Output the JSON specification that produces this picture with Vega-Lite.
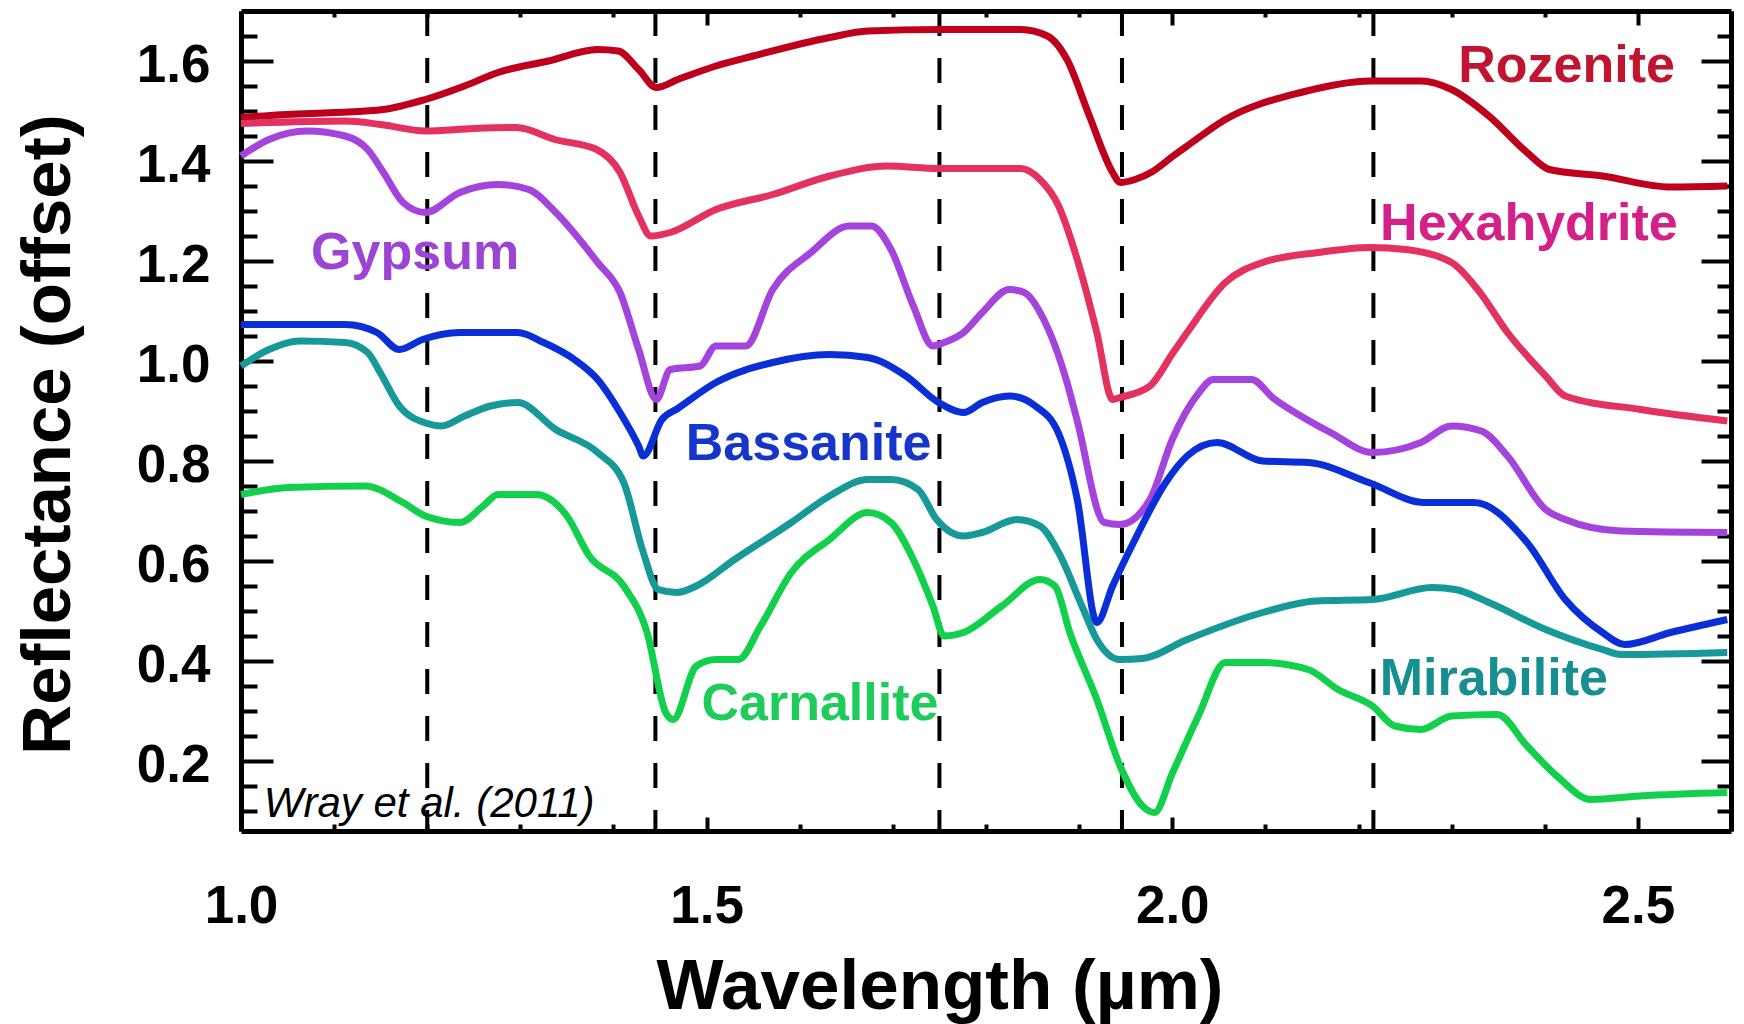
{
  "$schema": "https://vega.github.io/schema/vega-lite/v6.json",
  "width": 1490,
  "height": 820,
  "autosize": {"type": "none"},
  "padding": {"left": 241, "top": 11, "right": 13, "bottom": 193},
  "background": "white",
  "config": {"view": {"stroke": null}},
  "datasets": {
    "dashes": [{"w": 1.2}, {"w": 1.445}, {"w": 1.75}, {"w": 1.946}, {"w": 2.216}],
    "labels": [
      {"label": "Rozenite", "w": 2.4235, "v": 1.5586},
      {"label": "Hexahydrite", "w": 2.383, "v": 1.242},
      {"label": "Gypsum", "w": 1.187, "v": 1.184},
      {"label": "Bassanite", "w": 1.6095, "v": 0.802},
      {"label": "Mirabilite", "w": 2.3453, "v": 0.332},
      {"label": "Carnallite", "w": 1.6217, "v": 0.282}
    ],
    "notes": [{"note": "Wray et al. (2011)", "w": 1.0245, "v": 0.088}],
    "spectra": [
      {"m": "Rozenite", "w": 1.0, "v": 1.487},
      {"m": "Rozenite", "w": 1.05, "v": 1.493},
      {"m": "Rozenite", "w": 1.1, "v": 1.497},
      {"m": "Rozenite", "w": 1.153, "v": 1.503},
      {"m": "Rozenite", "w": 1.198, "v": 1.523},
      {"m": "Rozenite", "w": 1.24, "v": 1.55},
      {"m": "Rozenite", "w": 1.276, "v": 1.577},
      {"m": "Rozenite", "w": 1.33, "v": 1.6},
      {"m": "Rozenite", "w": 1.383, "v": 1.623},
      {"m": "Rozenite", "w": 1.405, "v": 1.62},
      {"m": "Rozenite", "w": 1.427, "v": 1.583},
      {"m": "Rozenite", "w": 1.446, "v": 1.547},
      {"m": "Rozenite", "w": 1.469, "v": 1.563},
      {"m": "Rozenite", "w": 1.51, "v": 1.59},
      {"m": "Rozenite", "w": 1.55, "v": 1.61},
      {"m": "Rozenite", "w": 1.632, "v": 1.647},
      {"m": "Rozenite", "w": 1.673, "v": 1.66},
      {"m": "Rozenite", "w": 1.749, "v": 1.663},
      {"m": "Rozenite", "w": 1.837, "v": 1.663},
      {"m": "Rozenite", "w": 1.866, "v": 1.65},
      {"m": "Rozenite", "w": 1.887, "v": 1.603},
      {"m": "Rozenite", "w": 1.911, "v": 1.49},
      {"m": "Rozenite", "w": 1.936, "v": 1.377},
      {"m": "Rozenite", "w": 1.944, "v": 1.357},
      {"m": "Rozenite", "w": 1.96, "v": 1.363},
      {"m": "Rozenite", "w": 1.978, "v": 1.378},
      {"m": "Rozenite", "w": 2.001, "v": 1.41},
      {"m": "Rozenite", "w": 2.016, "v": 1.43},
      {"m": "Rozenite", "w": 2.057, "v": 1.483},
      {"m": "Rozenite", "w": 2.138, "v": 1.537},
      {"m": "Rozenite", "w": 2.213, "v": 1.56},
      {"m": "Rozenite", "w": 2.267, "v": 1.56},
      {"m": "Rozenite", "w": 2.3, "v": 1.543},
      {"m": "Rozenite", "w": 2.34, "v": 1.49},
      {"m": "Rozenite", "w": 2.381, "v": 1.417},
      {"m": "Rozenite", "w": 2.405, "v": 1.383},
      {"m": "Rozenite", "w": 2.462, "v": 1.37},
      {"m": "Rozenite", "w": 2.535, "v": 1.348},
      {"m": "Rozenite", "w": 2.596, "v": 1.35},
      {"m": "Hexahydrite", "w": 1.0, "v": 1.475},
      {"m": "Hexahydrite", "w": 1.112, "v": 1.48},
      {"m": "Hexahydrite", "w": 1.15, "v": 1.473},
      {"m": "Hexahydrite", "w": 1.198, "v": 1.46},
      {"m": "Hexahydrite", "w": 1.25, "v": 1.465},
      {"m": "Hexahydrite", "w": 1.296, "v": 1.467},
      {"m": "Hexahydrite", "w": 1.337, "v": 1.443},
      {"m": "Hexahydrite", "w": 1.382, "v": 1.423},
      {"m": "Hexahydrite", "w": 1.407, "v": 1.377},
      {"m": "Hexahydrite", "w": 1.427, "v": 1.29},
      {"m": "Hexahydrite", "w": 1.44, "v": 1.25},
      {"m": "Hexahydrite", "w": 1.461, "v": 1.257},
      {"m": "Hexahydrite", "w": 1.51, "v": 1.303},
      {"m": "Hexahydrite", "w": 1.571, "v": 1.333},
      {"m": "Hexahydrite", "w": 1.632, "v": 1.37},
      {"m": "Hexahydrite", "w": 1.694, "v": 1.39},
      {"m": "Hexahydrite", "w": 1.749, "v": 1.385},
      {"m": "Hexahydrite", "w": 1.837, "v": 1.385},
      {"m": "Hexahydrite", "w": 1.858, "v": 1.363},
      {"m": "Hexahydrite", "w": 1.878, "v": 1.31},
      {"m": "Hexahydrite", "w": 1.898, "v": 1.203},
      {"m": "Hexahydrite", "w": 1.919, "v": 1.057},
      {"m": "Hexahydrite", "w": 1.936, "v": 0.923},
      {"m": "Hexahydrite", "w": 1.944, "v": 0.927},
      {"m": "Hexahydrite", "w": 1.976, "v": 0.95},
      {"m": "Hexahydrite", "w": 2.001, "v": 1.017},
      {"m": "Hexahydrite", "w": 2.016, "v": 1.057},
      {"m": "Hexahydrite", "w": 2.057, "v": 1.157},
      {"m": "Hexahydrite", "w": 2.097, "v": 1.197},
      {"m": "Hexahydrite", "w": 2.157, "v": 1.217},
      {"m": "Hexahydrite", "w": 2.213, "v": 1.227},
      {"m": "Hexahydrite", "w": 2.251, "v": 1.223},
      {"m": "Hexahydrite", "w": 2.3, "v": 1.197},
      {"m": "Hexahydrite", "w": 2.328, "v": 1.143},
      {"m": "Hexahydrite", "w": 2.36, "v": 1.057},
      {"m": "Hexahydrite", "w": 2.401, "v": 0.97},
      {"m": "Hexahydrite", "w": 2.422, "v": 0.93},
      {"m": "Hexahydrite", "w": 2.503, "v": 0.903},
      {"m": "Hexahydrite", "w": 2.596, "v": 0.88},
      {"m": "Gypsum", "w": 1.0, "v": 1.41},
      {"m": "Gypsum", "w": 1.03, "v": 1.443},
      {"m": "Gypsum", "w": 1.071, "v": 1.46},
      {"m": "Gypsum", "w": 1.112, "v": 1.45},
      {"m": "Gypsum", "w": 1.136, "v": 1.423},
      {"m": "Gypsum", "w": 1.153, "v": 1.377},
      {"m": "Gypsum", "w": 1.174, "v": 1.317},
      {"m": "Gypsum", "w": 1.198, "v": 1.297},
      {"m": "Gypsum", "w": 1.235, "v": 1.337},
      {"m": "Gypsum", "w": 1.276, "v": 1.353},
      {"m": "Gypsum", "w": 1.309, "v": 1.343},
      {"m": "Gypsum", "w": 1.338, "v": 1.297},
      {"m": "Gypsum", "w": 1.383, "v": 1.197},
      {"m": "Gypsum", "w": 1.407, "v": 1.137},
      {"m": "Gypsum", "w": 1.427, "v": 1.023},
      {"m": "Gypsum", "w": 1.446, "v": 0.923},
      {"m": "Gypsum", "w": 1.461, "v": 0.983},
      {"m": "Gypsum", "w": 1.493, "v": 0.99},
      {"m": "Gypsum", "w": 1.51, "v": 1.03},
      {"m": "Gypsum", "w": 1.542, "v": 1.03},
      {"m": "Gypsum", "w": 1.571, "v": 1.143},
      {"m": "Gypsum", "w": 1.612, "v": 1.217},
      {"m": "Gypsum", "w": 1.653, "v": 1.27},
      {"m": "Gypsum", "w": 1.677, "v": 1.27},
      {"m": "Gypsum", "w": 1.698, "v": 1.223},
      {"m": "Gypsum", "w": 1.722, "v": 1.11},
      {"m": "Gypsum", "w": 1.743, "v": 1.03},
      {"m": "Gypsum", "w": 1.755, "v": 1.037},
      {"m": "Gypsum", "w": 1.776, "v": 1.057},
      {"m": "Gypsum", "w": 1.796, "v": 1.097},
      {"m": "Gypsum", "w": 1.825, "v": 1.143},
      {"m": "Gypsum", "w": 1.841, "v": 1.137},
      {"m": "Gypsum", "w": 1.862, "v": 1.083},
      {"m": "Gypsum", "w": 1.887, "v": 0.957},
      {"m": "Gypsum", "w": 1.898, "v": 0.88},
      {"m": "Gypsum", "w": 1.927, "v": 0.677},
      {"m": "Gypsum", "w": 1.944, "v": 0.673},
      {"m": "Gypsum", "w": 1.976, "v": 0.723},
      {"m": "Gypsum", "w": 2.0, "v": 0.843},
      {"m": "Gypsum", "w": 2.028, "v": 0.935},
      {"m": "Gypsum", "w": 2.044, "v": 0.963},
      {"m": "Gypsum", "w": 2.085, "v": 0.963},
      {"m": "Gypsum", "w": 2.109, "v": 0.925},
      {"m": "Gypsum", "w": 2.138, "v": 0.89},
      {"m": "Gypsum", "w": 2.17, "v": 0.857},
      {"m": "Gypsum", "w": 2.215, "v": 0.817},
      {"m": "Gypsum", "w": 2.267, "v": 0.837},
      {"m": "Gypsum", "w": 2.3, "v": 0.87},
      {"m": "Gypsum", "w": 2.332, "v": 0.86},
      {"m": "Gypsum", "w": 2.36, "v": 0.81},
      {"m": "Gypsum", "w": 2.401, "v": 0.703},
      {"m": "Gypsum", "w": 2.422, "v": 0.683},
      {"m": "Gypsum", "w": 2.482, "v": 0.66},
      {"m": "Gypsum", "w": 2.596, "v": 0.657},
      {"m": "Bassanite", "w": 1.0, "v": 1.073},
      {"m": "Bassanite", "w": 1.112, "v": 1.073},
      {"m": "Bassanite", "w": 1.146, "v": 1.057},
      {"m": "Bassanite", "w": 1.17, "v": 1.023},
      {"m": "Bassanite", "w": 1.195, "v": 1.043},
      {"m": "Bassanite", "w": 1.235, "v": 1.057},
      {"m": "Bassanite", "w": 1.297, "v": 1.057},
      {"m": "Bassanite", "w": 1.325, "v": 1.037},
      {"m": "Bassanite", "w": 1.358, "v": 1.003},
      {"m": "Bassanite", "w": 1.383, "v": 0.963},
      {"m": "Bassanite", "w": 1.407, "v": 0.897},
      {"m": "Bassanite", "w": 1.427, "v": 0.83},
      {"m": "Bassanite", "w": 1.432, "v": 0.81},
      {"m": "Bassanite", "w": 1.452, "v": 0.883},
      {"m": "Bassanite", "w": 1.469, "v": 0.905},
      {"m": "Bassanite", "w": 1.51, "v": 0.957},
      {"m": "Bassanite", "w": 1.571, "v": 0.997},
      {"m": "Bassanite", "w": 1.632, "v": 1.013},
      {"m": "Bassanite", "w": 1.673, "v": 1.007},
      {"m": "Bassanite", "w": 1.714, "v": 0.97},
      {"m": "Bassanite", "w": 1.749, "v": 0.917},
      {"m": "Bassanite", "w": 1.776, "v": 0.897},
      {"m": "Bassanite", "w": 1.796, "v": 0.917},
      {"m": "Bassanite", "w": 1.825, "v": 0.93},
      {"m": "Bassanite", "w": 1.853, "v": 0.91},
      {"m": "Bassanite", "w": 1.878, "v": 0.855},
      {"m": "Bassanite", "w": 1.898, "v": 0.723},
      {"m": "Bassanite", "w": 1.919, "v": 0.477},
      {"m": "Bassanite", "w": 1.936, "v": 0.55},
      {"m": "Bassanite", "w": 1.96, "v": 0.643},
      {"m": "Bassanite", "w": 1.993, "v": 0.757},
      {"m": "Bassanite", "w": 2.016, "v": 0.81},
      {"m": "Bassanite", "w": 2.048, "v": 0.837},
      {"m": "Bassanite", "w": 2.097, "v": 0.8},
      {"m": "Bassanite", "w": 2.146, "v": 0.797},
      {"m": "Bassanite", "w": 2.211, "v": 0.757},
      {"m": "Bassanite", "w": 2.271, "v": 0.717},
      {"m": "Bassanite", "w": 2.324, "v": 0.717},
      {"m": "Bassanite", "w": 2.381, "v": 0.637},
      {"m": "Bassanite", "w": 2.422, "v": 0.523},
      {"m": "Bassanite", "w": 2.462, "v": 0.457},
      {"m": "Bassanite", "w": 2.486, "v": 0.433},
      {"m": "Bassanite", "w": 2.535, "v": 0.457},
      {"m": "Bassanite", "w": 2.596, "v": 0.483},
      {"m": "Mirabilite", "w": 1.0, "v": 0.99},
      {"m": "Mirabilite", "w": 1.03, "v": 1.023},
      {"m": "Mirabilite", "w": 1.063, "v": 1.04},
      {"m": "Mirabilite", "w": 1.112, "v": 1.037},
      {"m": "Mirabilite", "w": 1.136, "v": 1.017},
      {"m": "Mirabilite", "w": 1.15, "v": 0.975},
      {"m": "Mirabilite", "w": 1.17, "v": 0.91},
      {"m": "Mirabilite", "w": 1.2, "v": 0.875},
      {"m": "Mirabilite", "w": 1.215, "v": 0.87},
      {"m": "Mirabilite", "w": 1.24, "v": 0.89},
      {"m": "Mirabilite", "w": 1.268, "v": 0.91},
      {"m": "Mirabilite", "w": 1.297, "v": 0.917},
      {"m": "Mirabilite", "w": 1.338, "v": 0.863},
      {"m": "Mirabilite", "w": 1.383, "v": 0.817},
      {"m": "Mirabilite", "w": 1.411, "v": 0.757},
      {"m": "Mirabilite", "w": 1.431, "v": 0.623},
      {"m": "Mirabilite", "w": 1.448, "v": 0.543},
      {"m": "Mirabilite", "w": 1.468, "v": 0.537},
      {"m": "Mirabilite", "w": 1.489, "v": 0.55},
      {"m": "Mirabilite", "w": 1.53, "v": 0.603},
      {"m": "Mirabilite", "w": 1.591, "v": 0.677},
      {"m": "Mirabilite", "w": 1.632, "v": 0.73},
      {"m": "Mirabilite", "w": 1.673, "v": 0.763},
      {"m": "Mirabilite", "w": 1.698, "v": 0.763},
      {"m": "Mirabilite", "w": 1.727, "v": 0.743},
      {"m": "Mirabilite", "w": 1.747, "v": 0.683},
      {"m": "Mirabilite", "w": 1.776, "v": 0.65},
      {"m": "Mirabilite", "w": 1.796, "v": 0.657},
      {"m": "Mirabilite", "w": 1.833, "v": 0.683},
      {"m": "Mirabilite", "w": 1.858, "v": 0.67},
      {"m": "Mirabilite", "w": 1.878, "v": 0.617},
      {"m": "Mirabilite", "w": 1.903, "v": 0.51},
      {"m": "Mirabilite", "w": 1.919, "v": 0.443},
      {"m": "Mirabilite", "w": 1.944, "v": 0.403},
      {"m": "Mirabilite", "w": 1.968, "v": 0.405},
      {"m": "Mirabilite", "w": 2.016, "v": 0.443},
      {"m": "Mirabilite", "w": 2.097, "v": 0.497},
      {"m": "Mirabilite", "w": 2.154, "v": 0.52},
      {"m": "Mirabilite", "w": 2.215, "v": 0.523},
      {"m": "Mirabilite", "w": 2.279, "v": 0.547},
      {"m": "Mirabilite", "w": 2.304, "v": 0.543},
      {"m": "Mirabilite", "w": 2.34, "v": 0.517},
      {"m": "Mirabilite", "w": 2.401, "v": 0.463},
      {"m": "Mirabilite", "w": 2.462, "v": 0.423},
      {"m": "Mirabilite", "w": 2.482, "v": 0.413},
      {"m": "Mirabilite", "w": 2.596, "v": 0.417},
      {"m": "Carnallite", "w": 1.0, "v": 0.733},
      {"m": "Carnallite", "w": 1.051, "v": 0.747},
      {"m": "Carnallite", "w": 1.133, "v": 0.75},
      {"m": "Carnallite", "w": 1.174, "v": 0.717},
      {"m": "Carnallite", "w": 1.198, "v": 0.69},
      {"m": "Carnallite", "w": 1.235, "v": 0.677},
      {"m": "Carnallite", "w": 1.26, "v": 0.71},
      {"m": "Carnallite", "w": 1.276, "v": 0.733},
      {"m": "Carnallite", "w": 1.317, "v": 0.733},
      {"m": "Carnallite", "w": 1.35, "v": 0.69},
      {"m": "Carnallite", "w": 1.374, "v": 0.61},
      {"m": "Carnallite", "w": 1.411, "v": 0.55},
      {"m": "Carnallite", "w": 1.436, "v": 0.457},
      {"m": "Carnallite", "w": 1.456, "v": 0.297},
      {"m": "Carnallite", "w": 1.464, "v": 0.283},
      {"m": "Carnallite", "w": 1.489, "v": 0.39},
      {"m": "Carnallite", "w": 1.51, "v": 0.403},
      {"m": "Carnallite", "w": 1.534, "v": 0.403},
      {"m": "Carnallite", "w": 1.558, "v": 0.47},
      {"m": "Carnallite", "w": 1.591, "v": 0.577},
      {"m": "Carnallite", "w": 1.632, "v": 0.643},
      {"m": "Carnallite", "w": 1.673, "v": 0.697},
      {"m": "Carnallite", "w": 1.698, "v": 0.677},
      {"m": "Carnallite", "w": 1.722, "v": 0.603},
      {"m": "Carnallite", "w": 1.743, "v": 0.51},
      {"m": "Carnallite", "w": 1.755, "v": 0.45},
      {"m": "Carnallite", "w": 1.776, "v": 0.457},
      {"m": "Carnallite", "w": 1.817, "v": 0.51},
      {"m": "Carnallite", "w": 1.858, "v": 0.563},
      {"m": "Carnallite", "w": 1.874, "v": 0.55},
      {"m": "Carnallite", "w": 1.89, "v": 0.457},
      {"m": "Carnallite", "w": 1.919, "v": 0.323},
      {"m": "Carnallite", "w": 1.944, "v": 0.19},
      {"m": "Carnallite", "w": 1.968, "v": 0.11},
      {"m": "Carnallite", "w": 1.981, "v": 0.097},
      {"m": "Carnallite", "w": 2.0, "v": 0.175},
      {"m": "Carnallite", "w": 2.028, "v": 0.29},
      {"m": "Carnallite", "w": 2.057, "v": 0.397},
      {"m": "Carnallite", "w": 2.097, "v": 0.397},
      {"m": "Carnallite", "w": 2.146, "v": 0.383},
      {"m": "Carnallite", "w": 2.178, "v": 0.343},
      {"m": "Carnallite", "w": 2.215, "v": 0.31},
      {"m": "Carnallite", "w": 2.239, "v": 0.27},
      {"m": "Carnallite", "w": 2.267, "v": 0.263},
      {"m": "Carnallite", "w": 2.3, "v": 0.29},
      {"m": "Carnallite", "w": 2.349, "v": 0.293},
      {"m": "Carnallite", "w": 2.381, "v": 0.23},
      {"m": "Carnallite", "w": 2.413, "v": 0.17},
      {"m": "Carnallite", "w": 2.45, "v": 0.123},
      {"m": "Carnallite", "w": 2.502, "v": 0.13},
      {"m": "Carnallite", "w": 2.596, "v": 0.137}
    ]
  },
  "layer": [
    {
      "data": {"name": "dashes"},
      "mark": {"type": "rule", "color": "black", "strokeWidth": 4, "strokeDash": [25, 22]},
      "encoding": {
        "x": {"field": "w", "type": "quantitative", "scale": {"domain": [1.0, 2.6], "nice": false, "zero": false}, "axis": null}
      }
    },
    {
      "data": {"name": "spectra"},
      "mark": {"type": "line", "strokeWidth": 7, "interpolate": "monotone", "strokeJoin": "round"},
      "encoding": {
        "x": {
          "field": "w", "type": "quantitative",
          "scale": {"domain": [1.0, 2.6], "nice": false, "zero": false},
          "axis": {
            "orient": "bottom",
            "values": [1.0, 1.1, 1.2, 1.3, 1.4, 1.5, 1.6, 1.7, 1.8, 1.9, 2.0, 2.1, 2.2, 2.3, 2.4, 2.5, 2.6],
            "labelExpr": "abs(datum.value*2 - round(datum.value*2)) < 0.001 ? format(datum.value, '.1f') : ''",
            "ticks": false, "tickSize": 0,
            "grid": true, "gridColor": "black", "gridWidth": 4, "gridOpacity": 1,
            "gridDash": {"condition": {"test": "abs(datum.value*2 - round(datum.value*2)) < 0.001", "value": [14, 792, 14, 3000]}, "value": [6, 807, 7, 3000]},
            "domainColor": "black", "domainWidth": 5,
            "labelFont": "Liberation Sans", "labelFontSize": 53, "labelFontWeight": "bold", "labelColor": "black",
            "labelBaseline": "alphabetic", "labelPadding": 91, "labelFlush": false, "labelOverlap": false, "labelBound": false,
            "title": "Wavelength (µm)", "titleFont": "Liberation Sans", "titleFontSize": 71, "titleFontWeight": "bold", "titleColor": "black",
            "titleX": 698.5, "titleY": 177, "titleAlign": "center", "titleBaseline": "alphabetic"
          }
        },
        "y": {
          "field": "v", "type": "quantitative",
          "scale": {"domain": [0.06, 1.7], "nice": false, "zero": false},
          "axis": {
            "orient": "left",
            "values": [0.1, 0.15, 0.2, 0.25, 0.3, 0.35, 0.4, 0.45, 0.5, 0.55, 0.6, 0.65, 0.7, 0.75, 0.8, 0.85, 0.9, 0.95, 1.0, 1.05, 1.1, 1.15, 1.2, 1.25, 1.3, 1.35, 1.4, 1.45, 1.5, 1.55, 1.6, 1.65],
            "labelExpr": "abs(datum.value*5 - round(datum.value*5)) < 0.001 ? format(datum.value, '.1f') : ''",
            "ticks": false, "tickSize": 0,
            "grid": true, "gridColor": "black", "gridWidth": 4, "gridOpacity": 1,
            "gridDash": {"condition": {"test": "abs(datum.value*5 - round(datum.value*5)) < 0.001", "value": [32, 1428, 30, 3000]}, "value": [16, 1460, 14, 3000]},
            "domainColor": "black", "domainWidth": 5,
            "labelFont": "Liberation Sans", "labelFontSize": 53, "labelFontWeight": "bold", "labelColor": "black",
            "labelAlign": "right", "labelBaseline": "middle", "labelPadding": 31, "labelOffset": 4, "labelFlush": false, "labelOverlap": false, "labelBound": false,
            "title": "Reflectance (offset)", "titleFont": "Liberation Sans", "titleFontSize": 69, "titleFontWeight": "bold", "titleColor": "black",
            "titleAngle": 270, "titleX": -172, "titleY": 423, "titleAlign": "center", "titleBaseline": "alphabetic"
          }
        },
        "color": {
          "field": "m", "type": "nominal",
          "scale": {"domain": ["Rozenite", "Hexahydrite", "Gypsum", "Bassanite", "Mirabilite", "Carnallite"], "range": ["#BE001C", "#E3325F", "#A444DC", "#0A2FD6", "#17999A", "#12D04C"]},
          "legend": null
        }
      }
    },
    {
      "data": {"name": "labels"},
      "mark": {"type": "text", "font": "Liberation Sans", "fontSize": 52, "fontWeight": "bold", "align": "center", "baseline": "alphabetic"},
      "encoding": {
        "x": {
          "field": "w", "type": "quantitative",
          "scale": {"domain": [1.0, 2.6], "nice": false, "zero": false},
          "axis": {
            "orient": "top", "labels": false, "title": null, "grid": false, "ticks": false,
            "domainColor": "black", "domainWidth": 5
          }
        },
        "y": {
          "field": "v", "type": "quantitative",
          "scale": {"domain": [0.06, 1.7], "nice": false, "zero": false},
          "axis": {
            "orient": "right", "labels": false, "title": null, "grid": false, "ticks": false,
            "domainColor": "black", "domainWidth": 5
          }
        },
        "text": {"field": "label", "type": "nominal"},
        "color": {
          "field": "label", "type": "nominal",
          "scale": {"domain": ["Rozenite", "Hexahydrite", "Gypsum", "Bassanite", "Mirabilite", "Carnallite"], "range": ["#C01530", "#D4218A", "#9C45D4", "#1536C9", "#178E8F", "#1FCB5A"]},
          "legend": null
        }
      }
    },
    {
      "data": {"name": "notes"},
      "mark": {"type": "text", "font": "Liberation Sans", "fontSize": 42, "fontStyle": "italic", "align": "left", "baseline": "alphabetic", "color": "black"},
      "encoding": {
        "x": {"field": "w", "type": "quantitative", "scale": {"domain": [1.0, 2.6], "nice": false, "zero": false}, "axis": null},
        "y": {"field": "v", "type": "quantitative", "scale": {"domain": [0.06, 1.7], "nice": false, "zero": false}, "axis": null},
        "text": {"field": "note", "type": "nominal"}
      }
    }
  ],
  "resolve": {
    "scale": {"color": "independent"},
    "axis": {"x": "independent", "y": "independent"}
  }
}
